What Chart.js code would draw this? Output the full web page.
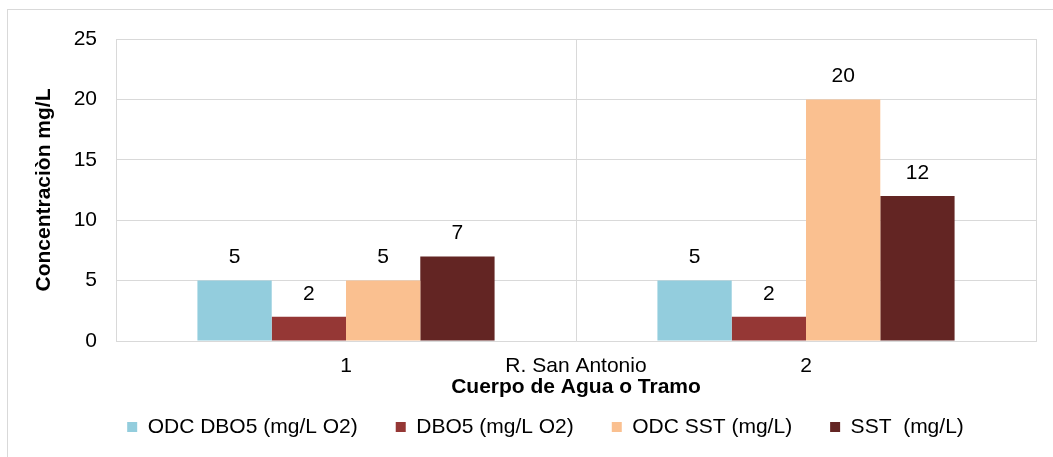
<!DOCTYPE html>
<html>
<head>
<meta charset="utf-8">
<script src="https://cdn.jsdelivr.net/npm/chart.js@4"></script>
<style>
  html, body { margin: 0; padding: 0; background: #fff; }
  canvas { display: block; }
</style>
</head>
<body>
<canvas id="chart" width="1053" height="457"></canvas>
<script>
// datos del grafico
const tramos = ['1', '2'];
const grupo = 'R. San Antonio';
const odcDbo5 = [5, 5];
const dbo5 = [2, 2];
const odcSst = [5, 20];
const sst = [7, 12];

const FONT = "'Liberation Sans', Arial, sans-serif";
const gridColor = '#d9d9d9';

// marco exterior del grafico
const frame = {
  id: 'frame',
  beforeDraw(chart) {
    const ctx = chart.ctx;
    ctx.save();
    ctx.strokeStyle = gridColor;
    ctx.lineWidth = 1;
    ctx.strokeRect(7.5, 9.5, chart.width + 10, chart.height + 10);
    ctx.restore();
  }
};

// etiquetas de valor encima de las barras + nombre del cuerpo de agua
const labels = {
  id: 'labels',
  afterDatasetsDraw(chart) {
    const ctx = chart.ctx;
    ctx.save();
    ctx.font = '21px ' + FONT;
    ctx.fillStyle = '#000';
    ctx.textAlign = 'center';
    ctx.textBaseline = 'middle';
    chart.data.datasets.forEach((ds, i) => {
      chart.getDatasetMeta(i).data.forEach((bar, j) => {
        ctx.fillText(ds.data[j], bar.x, bar.y - 23);
      });
    });
    const x = chart.scales.x;
    ctx.fillText(grupo, (x.left + x.right) / 2, x.top + 13 + 12.6);
    ctx.restore();
  }
};

new Chart(document.getElementById('chart'), {
  type: 'bar',
  data: {
    labels: tramos,
    datasets: [
      { label: 'ODC DBO5 (mg/L O2)', data: odcDbo5, backgroundColor: '#93cddd' },
      { label: 'DBO5 (mg/L O2)', data: dbo5, backgroundColor: '#953735' },
      { label: 'ODC SST (mg/L)', data: odcSst, backgroundColor: '#fac090' },
      { label: 'SST  (mg/L)', data: sst, backgroundColor: '#632523' }
    ]
  },
  options: {
    responsive: false,
    animation: false,
    devicePixelRatio: 1,
    datasets: { bar: { categoryPercentage: 0.646, barPercentage: 1 } },
    layout: { padding: { left: 55, right: 17, top: 39, bottom: 9.5 } },
    plugins: {
      legend: {
        position: 'bottom',
        labels: { boxWidth: 10, boxHeight: 10, padding: 38, color: '#000', font: { family: FONT, size: 21 } }
      },
      tooltip: { enabled: false }
    },
    scales: {
      x: {
        grid: { color: gridColor, drawTicks: false },
        border: { color: gridColor },
        ticks: { color: '#000', padding: 13, font: { family: FONT, size: 21 } },
        title: {
          display: true, text: 'Cuerpo de Agua o Tramo', color: '#000',
          font: { family: FONT, size: 21, weight: 'bold' },
          padding: { top: 0, bottom: -21 }
        },
        afterFit(s) { s.height = 37.5; }
      },
      y: {
        min: 0, max: 25,
        grid: { color: gridColor, drawTicks: false },
        border: { color: gridColor },
        ticks: { stepSize: 5, color: '#000', padding: 19, font: { family: FONT, size: 21 } },
        title: {
          display: true, text: 'Concentraciòn mg/L', color: '#000',
          font: { family: FONT, size: 21, weight: 'bold' },
          padding: { top: -23.6, bottom: 0 }
        },
        afterFit(s) { s.width = 116 - 55; }
      }
    }
  },
  plugins: [frame, labels]
});
</script>
</body>
</html>
